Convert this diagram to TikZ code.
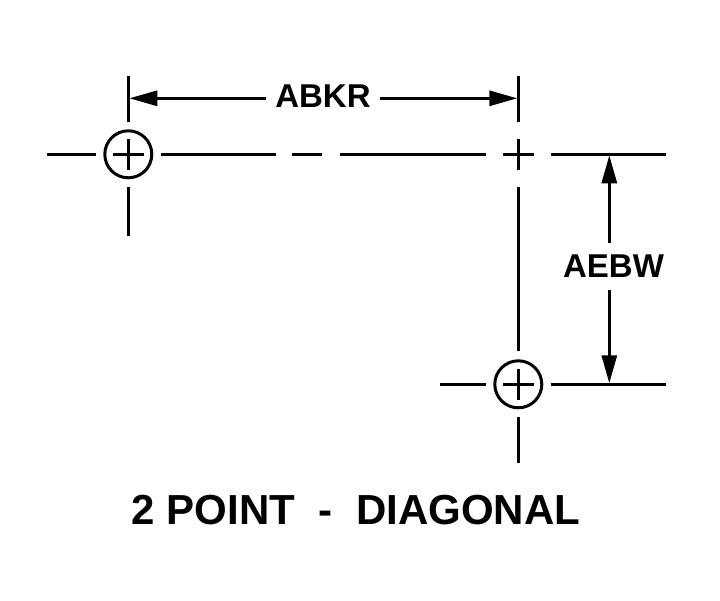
\documentclass[tikz,border=0pt]{standalone}
\usepackage{fontspec}
\setmainfont{Liberation Sans}
\usetikzlibrary{arrows.meta}
\tikzset{
    centerline/.style={line width=3pt},
    hole/.style={draw,circle,line width=3pt,minimum size=47pt,inner sep=0pt},
    dimline/.style={line width=3pt,-{Triangle[length=28pt,width=15pt]},shorten >=1pt},
    dimlabel/.style={font=\bfseries\fontsize{33}{33}\selectfont,inner sep=0pt}
}
\begin{document}
\begin{tikzpicture}[x=1pt,y=-1pt]
    \useasboundingbox (0,0) rectangle (720,600);
    % holes
    \node[hole] (holeA) at (128.3,154.3) {};
    \node[hole] (holeB) at (518.3,384.3) {};
    % centerlines, top row
    \draw[centerline] (47.3,154.3) -- (96,154.3);
    \draw[centerline] (113.3,154.3) -- (144,154.3);
    \draw[centerline] (161,154.3) -- (275.7,154.3);
    \draw[centerline] (292.3,154.3) -- (322.3,154.3);
    \draw[centerline] (340,154.3) -- (485.7,154.3);
    \draw[centerline] (503.3,154.3) -- (534,154.3);
    \draw[centerline] (551,154.3) -- (665.7,154.3);
    % centerlines, bottom row
    \draw[centerline] (440,384.3) -- (486,384.3);
    \draw[centerline] (503.3,384.3) -- (534,384.3);
    \draw[centerline] (551,384.3) -- (665.7,384.3);
    % centerlines, left column
    \draw[centerline] (128.3,76) -- (128.3,121.7);
    \draw[centerline] (128.3,139) -- (128.3,170);
    \draw[centerline] (128.3,186.7) -- (128.3,235.7);
    % centerlines, right column
    \draw[centerline] (518.3,76) -- (518.3,121.7);
    \draw[centerline] (518.3,139) -- (518.3,170);
    \draw[centerline] (518.3,186.7) -- (518.3,351);
    \draw[centerline] (518.3,369) -- (518.3,400);
    \draw[centerline] (518.3,417.3) -- (518.3,463.3);
    % dimensions
    \coordinate (extA) at (128.3,98.3);
    \coordinate (extB) at (518.3,98.3);
    \coordinate (extC) at (609.3,154.3);
    \coordinate (extD) at (609.3,384.3);
    \node[dimlabel,inner xsep=9pt] (abkr) at (323,96.2) {ABKR};
    \node[dimlabel,minimum height=47pt] (aebw) at (613.5,266.5) {AEBW};
    \draw[dimline] (abkr.west |- extA) -- (extA);
    \draw[dimline] (abkr.east |- extB) -- (extB);
    \draw[dimline] (aebw.north -| extC) -- (extC);
    \draw[dimline] (aebw.south -| extD) -- (extD);
    % title
    \node[inner sep=0pt,font=\bfseries\fontsize{42}{42}\selectfont] (title) at (356,510) {2 POINT\ \ -\ \ DIAGONAL};
\end{tikzpicture}
\end{document}
